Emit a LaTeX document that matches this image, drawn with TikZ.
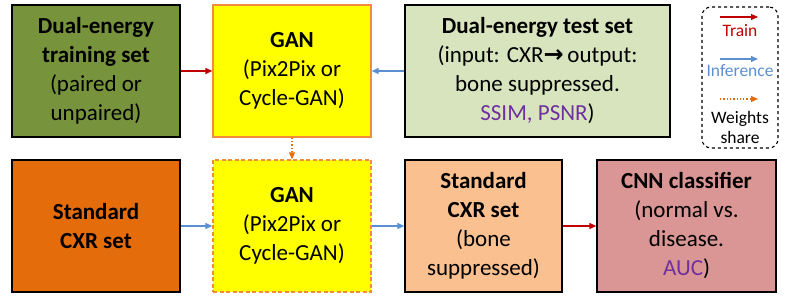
\documentclass[tikz,border=0pt]{standalone}
\usepackage{fontspec}
\setmainfont{Carlito}
\newfontfamily\dejavu{DejaVu Sans}
\usetikzlibrary{arrows.meta}
\definecolor{trainred}{HTML}{C00000}
\definecolor{infblue}{HTML}{5B8FD0}
\definecolor{wsorange}{HTML}{E46C0A}
\definecolor{olive}{HTML}{77933C}
\definecolor{lightgreen}{HTML}{D7E4BD}
\definecolor{ganyellow}{HTML}{FFFF00}
\definecolor{ganborder}{HTML}{F08C3C}
\definecolor{stdorange}{HTML}{E46C0A}
\definecolor{peach}{HTML}{FAC090}
\definecolor{rose}{HTML}{D99694}
\definecolor{metric}{HTML}{7030A0}
\tikzset{
  x=1pt, y=-1pt,
  box/.style={draw=black, line width=1.4pt, minimum height=132pt, align=center,
    inner sep=0pt, font=\fontsize{23}{29}\selectfont},
  ganbox/.style={box, draw=ganborder, fill=ganyellow},
  arr/.style={line width=1.3pt, -{Triangle[length=7pt,width=6pt]}},
  trainarr/.style={arr, draw=trainred, fill=trainred},
  infarr/.style={arr, draw=infblue, fill=infblue},
  wsarr/.style={arr, draw=wsorange, dotted, line width=1.1pt},
  legtext/.style={font=\fontsize{17.5}{20}\selectfont, inner sep=0pt, align=center}
}
\begin{document}
\begin{tikzpicture}
\useasboundingbox (0,0) rectangle (789,296);
% top row
\node[box, fill=olive, minimum width=168pt] (train) at (96,71)
  {\textbf{Dual-energy}\\\textbf{training set}\\(paired or\\unpaired)};
\node[ganbox, minimum width=158pt] (gan1) at (292,71)
  {\textbf{GAN}\\(Pix2Pix or\\Cycle-GAN)};
\node[box, fill=lightgreen, minimum width=265pt] (test) at (537.5,71)
  {\textbf{Dual-energy test set}\\(input: CXR{\dejavu\fontsize{24}{29}\selectfont\textbf{→}}\,output:\\bone suppressed.\\\textcolor{metric}{SSIM, PSNR})};
% bottom row
\node[box, fill=stdorange, minimum width=168pt] (std) at (96,226)
  {\textbf{Standard}\\\textbf{CXR set}};
\node[ganbox, dash pattern=on 4pt off 2.5pt, minimum width=158pt] (gan2) at (292,226)
  {\textbf{GAN}\\(Pix2Pix or\\Cycle-GAN)};
\node[box, fill=peach, minimum width=157pt] (std2) at (483.5,226)
  {\textbf{Standard}\\\textbf{CXR set}\\(bone\\suppressed)};
\node[box, fill=rose, minimum width=179pt] (cnn) at (686.5,226)
  {\textbf{CNN classifier}\\(normal vs.\\disease.\\\textcolor{metric}{AUC})};
% connectors
\draw[trainarr] (train.east) -- (gan1.west);
\draw[infarr] (test.west) -- (gan1.east);
\draw[wsarr] (gan1.south) -- (gan2.north);
\draw[infarr] (std.east) -- (gan2.west);
\draw[infarr] (gan2.east) -- (std2.west);
\draw[trainarr] (std2.east) -- (cnn.west);
% legend
\node[draw=black, dashed, line width=1.1pt, rounded corners=9pt,
  minimum width=76pt, minimum height=141pt, inner sep=0pt] (legend) at (740,77.5) {};
\coordinate (ta) at (720,17); \coordinate (tb) at (758,17);
\coordinate (ia) at (720,59); \coordinate (ib) at (758,59);
\coordinate (wa) at (720,99); \coordinate (wb) at (758,99);
\draw[trainarr, line width=1.1pt] (ta) -- (tb);
\draw[infarr, line width=1.1pt] (ia) -- (ib);
\draw[wsarr] (wa) -- (wb);
\node[legtext, text=trainred] (lt) at (740,31) {Train};
\node[legtext, text=infblue] (li) at (740,71) {Inference};
\node[legtext] (lw) at (740,127) {Weights\\share};
\end{tikzpicture}
\end{document}
